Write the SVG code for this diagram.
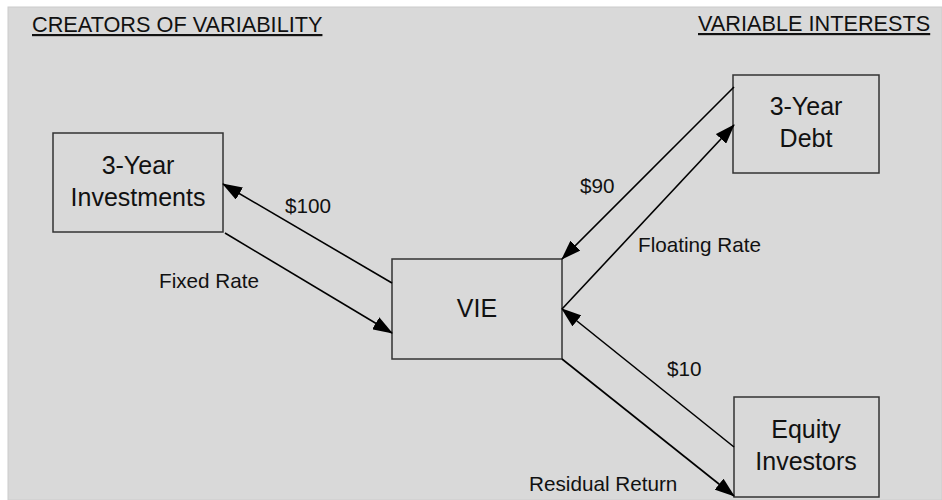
<svg xmlns="http://www.w3.org/2000/svg" width="942" height="500" viewBox="0 0 942 500">
<style>
.t{font-family:"Liberation Sans",Arial,sans-serif;fill:#111;}
.box{fill:#d9d9d9;stroke:#333;stroke-width:1.5;}
.node{font-size:25px;text-anchor:middle;}
.lbl{font-size:20.7px;}
.title{font-size:21.7px;text-decoration:underline;}
.conn line{stroke:#000;stroke-width:1.6;marker-end:url(#ah);}
</style>
<defs>
<marker id="ah" viewBox="0 0 20 14" refX="19" refY="7" markerWidth="20" markerHeight="14" markerUnits="userSpaceOnUse" orient="auto">
<path d="M0,0 L20,7 L0,14 z" fill="#000"/>
</marker>
</defs>
<rect x="8" y="7" width="934" height="493" fill="#d9d9d9" stroke="#cccccc" stroke-width="1"/>
<text class="t title" x="32" y="32">CREATORS OF VARIABILITY</text>
<text class="t title" x="698" y="31">VARIABLE INTERESTS</text>
<g id="investments">
<rect class="box" x="53" y="133" width="170" height="99"/>
<text class="t node" x="138" y="174">3-Year</text>
<text class="t node" x="138" y="206">Investments</text>
</g>
<g id="vie">
<rect class="box" x="392" y="259" width="170" height="100"/>
<text class="t node" x="477" y="317">VIE</text>
</g>
<g id="debt">
<rect class="box" x="733" y="75" width="146" height="98"/>
<text class="t node" x="806" y="115">3-Year</text>
<text class="t node" x="806" y="147">Debt</text>
</g>
<g id="equity">
<rect class="box" x="734" y="397" width="145" height="100"/>
<text class="t node" x="806" y="438">Equity</text>
<text class="t node" x="806" y="470">Investors</text>
</g>
<g id="connectors" class="conn">
<line x1="392" y1="283" x2="223" y2="184"/>
<line x1="225" y1="233" x2="392" y2="333"/>
<line x1="734" y1="87" x2="562" y2="259"/>
<line x1="562" y1="309" x2="734" y2="125"/>
<line x1="734" y1="447" x2="562" y2="309"/>
<line x1="562" y1="359" x2="734" y2="496"/>
</g>
<g id="labels">
<text class="t lbl" x="285" y="213">$100</text>
<text class="t lbl" x="159" y="288">Fixed Rate</text>
<text class="t lbl" x="580" y="193">$90</text>
<text class="t lbl" x="638" y="252">Floating Rate</text>
<text class="t lbl" x="667" y="376">$10</text>
<text class="t lbl" x="529" y="491">Residual Return</text>
</g>
</svg>
